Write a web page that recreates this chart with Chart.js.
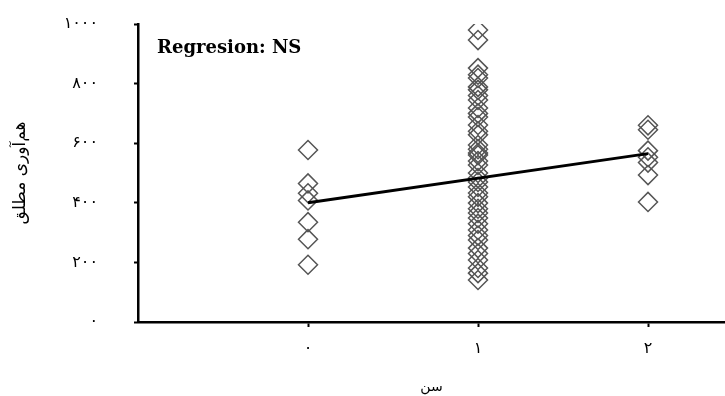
<!DOCTYPE html>
<html>
<head>
<meta charset="utf-8">
<script src="https://cdn.jsdelivr.net/npm/chart.js@4/dist/chart.umd.min.js"></script>
<style>
html,body{margin:0;padding:0;background:#fff;}
#wrap{width:725px;height:396px;position:relative;}
</style>
</head>
<body>
<div id="wrap"><canvas id="c" width="725" height="396"></canvas></div>
<script>
// ages (x categories) and their Persian labels
const ages = [0, 1, 2];
const ageLabels = ['۰', '۱', '۲'];
// absolute fecundity values per age group
const age0Values = [577, 465, 432, 408, 335, 278, 192];
const age1Values = [980, 946, 852, 830, 819, 789, 779, 760, 745, 718, 700, 688, 661, 640, 628, 594, 580, 567, 560, 540, 527, 500, 483, 470, 453, 433, 420, 399, 380, 366, 349, 330, 309, 290, 275, 248, 230, 208, 181, 164, 141];
const age2Values = [660, 645, 575, 553, 535, 493, 403];
// regression line endpoints (age -> value)
const regAges = [0, 2];
const regValues = [400, 565];
// y tick labels
const yTickValues = [0, 200, 400, 600, 800, 1000];
const yTickLabels = ['۰', '۲۰۰', '۴۰۰', '۶۰۰', '۸۰۰', '۱۰۰۰'];
const xTitle = 'سن';
const yTitle = 'هم‌آوری مطلق';
const note = 'Regresion: NS';

const points = [];
[age0Values, age1Values, age2Values].forEach((arr, i) => {
  arr.forEach(v => points.push({x: ages[i], y: v}));
});
const regLine = regAges.map((a, i) => ({x: a, y: regValues[i]}));

const notePlugin = {
  id: 'note',
  afterDatasetsDraw(chart) {
    const ctx = chart.ctx;
    ctx.save();
    ctx.font = 'bold 18px "DejaVu Serif"';
    ctx.fillStyle = '#000';
    ctx.textBaseline = 'middle';
    ctx.textAlign = 'left';
    ctx.fillText(note, chart.chartArea.left + 19, 48);
    ctx.restore();
  }
};

new Chart(document.getElementById('c'), {
  type: 'scatter',
  data: {
    datasets: [
      {
        type: 'line',
        data: regLine,
        borderColor: '#000',
        borderWidth: 3,
        pointRadius: 0,
        fill: false,
        order: 0
      },
      {
        data: points,
        pointStyle: 'rectRot',
        pointRadius: 9.5,
        pointHoverRadius: 9.5,
        borderColor: '#555',
        backgroundColor: 'rgba(0,0,0,0)',
        borderWidth: 1.5,
        order: 1
      }
    ]
  },
  options: {
    responsive: false,
    animation: false,
    events: [],
    layout: {autoPadding: false, padding: {top: 24, right: 0, left: 0, bottom: 0}},
    plugins: {legend: {display: false}, tooltip: {enabled: false}},
    scales: {
      x: {
        type: 'linear',
        min: -1,
        max: -1 + 587 / 170,
        afterBuildTicks(s) { s.ticks = ages.map(v => ({value: v})); },
        afterFit(s) { s.height = 74; s.paddingLeft = 0; s.paddingRight = 0; },
        border: {display: true, color: '#000', width: 2.5},
        grid: {drawOnChartArea: false, drawTicks: true, tickLength: 5, tickWidth: 2, tickColor: '#000'},
        ticks: {
          color: '#000',
          font: {family: '"DejaVu Sans"', size: 16},
          padding: 12,
          maxRotation: 0,
          callback: (v) => ageLabels[ages.indexOf(v)] ?? ''
        },
        title: {
          display: true,
          text: xTitle,
          color: '#000',
          font: {family: '"DejaVu Sans"', size: 14},
          padding: {top: 0, bottom: 0}
        }
      },
      y: {
        min: 0,
        max: 1000,
        afterBuildTicks(s) { s.ticks = yTickValues.map(v => ({value: v})); },
        afterFit(s) { s.width = 138; s.paddingTop = 0; s.paddingBottom = 0; },
        border: {display: true, color: '#000', width: 2.5},
        grid: {drawOnChartArea: false, drawTicks: true, tickLength: 4, tickWidth: 2, tickColor: '#000'},
        ticks: {
          color: '#000',
          font: {family: '"DejaVu Sans"', size: 16},
          padding: 36,
          callback: (v) => yTickLabels[yTickValues.indexOf(v)] ?? ''
        },
        title: {
          display: true,
          text: yTitle,
          color: '#000',
          font: {family: '"DejaVu Sans"', size: 17},
          padding: {top: 10, bottom: 10}
        }
      }
    }
  },
  plugins: [notePlugin]
});
</script>
</body>
</html>
